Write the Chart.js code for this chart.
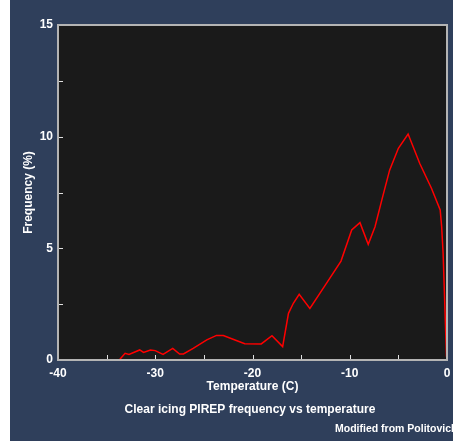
<!DOCTYPE html>
<html>
<head>
<meta charset="utf-8">
<script src="https://cdn.jsdelivr.net/npm/chart.js@4/dist/chart.umd.min.js"></script>
<style>
    html, body { margin: 0; padding: 0; background: #ffffff; }
    #wrap { position: absolute; left: 10px; top: 0; width: 443px; height: 441px; background: #2f3f5b; }
</style>
</head>
<body>
<div id="wrap"><canvas id="icingChart" width="443" height="441"></canvas></div>
<script>
// Clear icing PIREP frequency vs temperature
const temps = [-33.7, -33.1, -32.7, -31.6, -31.2, -30.5, -30.0, -29.2, -28.2, -27.5,
               -27.1, -26.1, -24.7, -23.7, -23.0, -22.0, -20.8, -19.1, -18.0, -16.9,
               -16.3, -15.8, -15.2, -14.1, -12.5, -10.9, -9.8, -8.95, -8.1, -7.4,
               -6.7, -5.9, -5.0, -4.0, -2.8, -1.6, -0.7, -0.55, -0.4, -0.05];
const freqs = [0, 0.3, 0.25, 0.45, 0.34, 0.45, 0.42, 0.25, 0.52, 0.27,
               0.27, 0.52, 0.9, 1.1, 1.1, 0.93, 0.73, 0.72, 1.09, 0.6,
               2.09, 2.54, 2.94, 2.31, 3.36, 4.43, 5.82, 6.15, 5.18, 5.97,
               7.17, 8.5, 9.48, 10.12, 8.8, 7.69, 6.72, 5.97, 4.78, 0.15];
const xTickLabels = [-40, -30, -20, -10, 0];
const yTickLabels = [0, 5, 10, 15];

const chartTitle = 'Clear icing PIREP frequency vs temperature';
const xTitle = 'Temperature (C)';
const yTitle = 'Frequency (%)';
const credit = 'Modified from Politovich';

const FONT = 'Liberation Sans, Arial, sans-serif';

/**
 * Dark plot panel, gray frame, inward tick marks and the texts
 */
const framePlugin = {
    id: 'frame',
    beforeDatasetsDraw(chart) {
        const a = chart.chartArea;
        const ctx = chart.ctx;
        ctx.save();
        ctx.fillStyle = '#1a1a1a';
        ctx.fillRect(a.left, a.top, a.right - a.left, a.bottom - a.top);
        ctx.restore();
    },
    afterDraw(chart) {
        const a = chart.chartArea;
        const ctx = chart.ctx;
        const xs = chart.scales.x;
        const ys = chart.scales.y;
        ctx.save();

        // inward ticks
        ctx.strokeStyle = '#e0e0e0';
        ctx.lineWidth = 1;
        xs.ticks.forEach(t => {
            const px = Math.round(xs.getPixelForValue(t.value)) + 0.5;
            ctx.beginPath();
            ctx.moveTo(px, a.bottom);
            ctx.lineTo(px, a.bottom - 5);
            ctx.stroke();
        });
        ys.ticks.forEach(t => {
            const py = Math.round(ys.getPixelForValue(t.value)) + 0.5;
            ctx.beginPath();
            ctx.moveTo(a.left, py);
            ctx.lineTo(a.left + 5, py);
            ctx.stroke();
        });

        // frame
        ctx.strokeStyle = '#b4b4b4';
        ctx.lineWidth = 2;
        ctx.strokeRect(a.left, a.top, a.right - a.left, a.bottom - a.top);

        // texts
        ctx.fillStyle = '#ffffff';
        ctx.textAlign = 'center';
        ctx.textBaseline = 'middle';
        ctx.font = 'bold 12px ' + FONT;
        const midX = (a.left + a.right) / 2;
        ctx.fillText(xTitle, midX, 387);
        ctx.fillText(chartTitle, 240, 410);

        ctx.save();
        ctx.translate(19, (a.top + a.bottom) / 2);
        ctx.rotate(-Math.PI / 2);
        ctx.fillText(yTitle, 0, 0);
        ctx.restore();

        ctx.textAlign = 'left';
        ctx.font = 'bold 10.5px ' + FONT;
        ctx.fillText(credit, 325, 429);

        ctx.restore();
    }
};

new Chart(document.getElementById('icingChart').getContext('2d'), {
    type: 'line',
    data: {
        datasets: [{
            data: temps.map((t, i) => ({ x: t, y: freqs[i] })),
            borderColor: '#ff0000',
            borderWidth: 1.5,
            pointRadius: 0,
            tension: 0,
            fill: false
        }]
    },
    options: {
        responsive: false,
        animation: false,
        layout: {
            padding: { top: 25, right: 6, bottom: 0, left: 0 }
        },
        plugins: {
            legend: { display: false },
            tooltip: { enabled: false }
        },
        scales: {
            x: {
                type: 'linear',
                min: -40,
                max: 0,
                grid: { display: false, drawTicks: false },
                border: { display: false },
                ticks: {
                    stepSize: 5,
                    padding: 6,
                    color: '#ffffff',
                    maxRotation: 0,
                    autoSkip: false,
                    font: { family: FONT, size: 12, weight: 'bold' },
                    callback: v => xTickLabels.includes(v) ? String(v) : ''
                },
                afterFit: scale => {
                    scale.height = 81;
                    // let the "0" label hang over the edge like the original
                    scale.paddingLeft = 0;
                    scale.paddingRight = 0;
                }
            },
            y: {
                min: 0,
                max: 15,
                grid: { display: false, drawTicks: false },
                border: { display: false },
                ticks: {
                    stepSize: 2.5,
                    padding: 5,
                    color: '#ffffff',
                    autoSkip: false,
                    font: { family: FONT, size: 12, weight: 'bold' },
                    callback: v => yTickLabels.includes(v) ? String(v) : ''
                },
                afterFit: scale => {
                    scale.width = 48;
                    scale.paddingTop = 0;
                    scale.paddingBottom = 0;
                }
            }
        }
    },
    plugins: [framePlugin]
});
</script>
</body>
</html>
